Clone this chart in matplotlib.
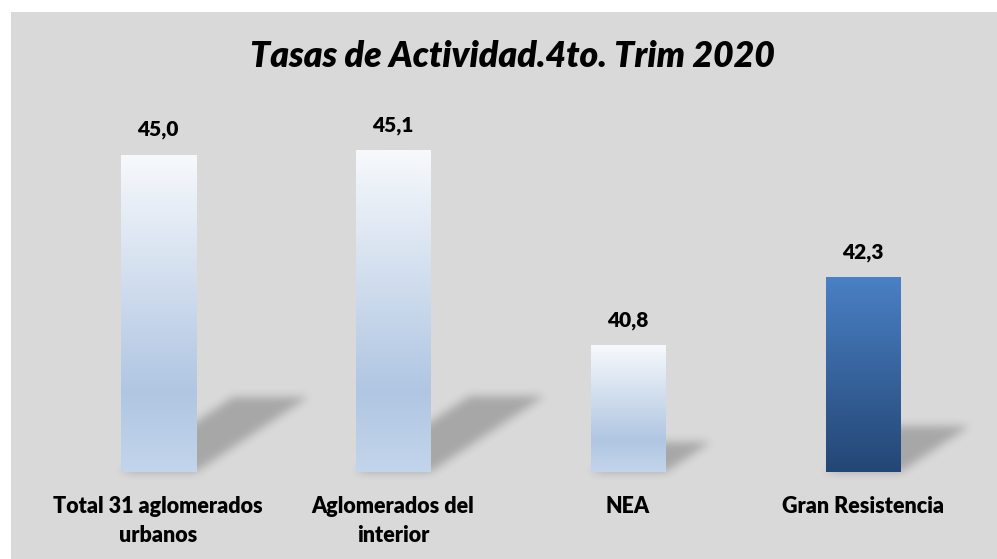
import numpy as np
import matplotlib.pyplot as plt
from matplotlib.patches import Rectangle
from matplotlib.colors import LinearSegmentedColormap

categories = ["Total 31 aglomerados\nurbanos", "Aglomerados del\ninterior", "NEA", "Gran Resistencia"]
values = [45.0, 45.1, 40.8, 42.3]
value_labels = ["45,0", "45,1", "40,8", "42,3"]
title = "Tasas de Actividad.4to. Trim 2020"

W, H = 997, 559
base = 38.0
px_per_unit = 45.3
bar_w = 75 / 235.0

plt.rcParams['font.family'] = ['Lato', 'DejaVu Sans']

fig = plt.figure(figsize=(W / 100, H / 100), dpi=100)
fig.patch.set_facecolor("white")
fig.add_artist(Rectangle((11 / W, 0), 1, 1 - 12 / H, transform=fig.transFigure,
                         facecolor="#d9d9d9", edgecolor="none", zorder=0))

ax = fig.add_axes([0, 0, 1, 1])
ax.set_facecolor("none")
x0 = -158 / 235.0
x1 = x0 + W / 235.0
ytop = base + 472 / px_per_unit
ybot = base - (H - 472) / px_per_unit
ax.set_xlim(x0, x1)
ax.set_ylim(ybot, ytop)
ax.axis("off")

# blurred shadows behind bars
xs = np.linspace(x0, x1, W)
ys = np.linspace(ytop, ybot, H)
X, Y = np.meshgrid(xs, ys)
mask = np.zeros((H, W))
for i, v in enumerate(values):
    h = 0.235 * (v - base)
    dx = 1.5 * h * px_per_unit / 235.0
    t = (Y - base) / h
    xx = X - t * dx
    inside = (t >= 0) & (t <= 1) & (xx >= i - bar_w / 2) & (xx <= i + bar_w / 2)
    mask[inside] = 1.0

k = np.exp(-0.5 * (np.arange(-12, 13) / 4.5) ** 2)
k /= k.sum()
mask = np.apply_along_axis(lambda r: np.convolve(r, k, mode="same"), 1, mask)
mask = np.apply_along_axis(lambda c: np.convolve(c, k, mode="same"), 0, mask)
shadow = np.zeros((H, W, 4))
shadow[..., 3] = mask * 0.23
ax.imshow(shadow, extent=(x0, x1, ybot, ytop), aspect="auto", zorder=1, interpolation="bilinear")

light = LinearSegmentedColormap.from_list("light", [(0, "#c3d5eb"), (0.25, "#b0c6e2"), (1, "#f7f9fc")])
dark = LinearSegmentedColormap.from_list("dark", ["#244675", "#4a80c5"])
grad = np.linspace(0, 1, 256).reshape(-1, 1)

for i, v in enumerate(values):
    cmap = dark if i == 3 else light
    rect = Rectangle((i - bar_w / 2, base), bar_w, v - base, facecolor="none", edgecolor="none")
    ax.add_patch(rect)
    im = ax.imshow(grad, extent=(i - bar_w / 2, i + bar_w / 2, base, v), origin="lower",
                   cmap=cmap, aspect="auto", zorder=2)
    im.set_clip_path(rect)
    ax.text(i, v + 25 / px_per_unit, value_labels[i], ha="center", va="center",
            fontsize=15, fontweight="heavy", color="black", zorder=3)
    ax.text(i, base - 24 / px_per_unit, categories[i], ha="center", va="top",
            fontsize=15.5, fontweight="heavy", color="black", linespacing=1.45, zorder=3)

ax.text(1.5 + (512 - 158 - 1.5 * 235) / 235.0, base + (472 - 57) / px_per_unit, title,
        ha="center", va="center", fontsize=25.7, fontweight="heavy", fontstyle="italic", zorder=3)

fig.savefig("out.png", dpi=100)
